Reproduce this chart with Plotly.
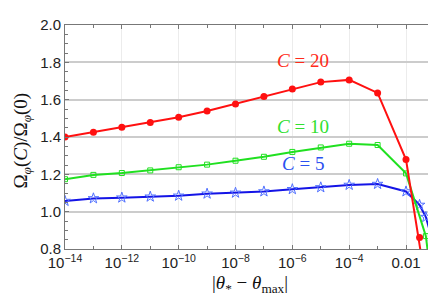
import plotly.graph_objects as go

decades = [10.0 ** e for e in range(-14, -1)]  # 1e-14 ... 1e-2

x_red = decades + [0.03, 0.05]
y_red = [1.400, 1.426, 1.452, 1.478, 1.506, 1.539, 1.577, 1.617, 1.657, 1.694,
         1.706, 1.636, 1.279, 0.861, 0.61]

x_green = decades + [0.05, 0.09]
y_green = [1.174, 1.197, 1.207, 1.221, 1.238, 1.252, 1.273, 1.294, 1.320, 1.344,
           1.364, 1.357, 1.205, 0.869, 0.55]

x_blue = decades + [0.03, 0.05, 0.09]
y_blue = [1.057, 1.071, 1.075, 1.080, 1.085, 1.096, 1.101, 1.108, 1.120, 1.130,
          1.143, 1.148, 1.108, 1.036, 0.971, 0.835]

x_tickvals = [1e-14, 1e-12, 1e-10, 1e-8, 1e-6, 1e-4, 1e-2]
x_ticktext = ["10<sup>−14</sup>", "10<sup>−12</sup>", "10<sup>−10</sup>",
              "10<sup>−8</sup>", "10<sup>−6</sup>", "10<sup>−4</sup>", "0.01"]
x_minor = [1e-13, 1e-11, 1e-9, 1e-7, 1e-5, 1e-3]

labels = ["<i>C</i> = 20", "<i>C</i> = 10", "<i>C</i> = 5"]
label_logx = [-5.62, -5.62, -5.62]   # log10 positions on the log axis
label_y = [1.81, 1.455, 1.257]

RED, GREEN, BLUE = "#ff1010", "#20e020", "#1414e6"
LRED, LGREEN, LBLUE = "#ff2a1a", "#30e030", "#2a50f0"

fig = go.Figure()
fig.add_trace(go.Scatter(x=x_blue, y=y_blue, mode="lines+markers",
                         line=dict(color=BLUE, width=2),
                         marker=dict(symbol="star-open", size=8, color="#5070ff",
                                     line=dict(width=1))))
fig.add_trace(go.Scatter(x=x_green, y=y_green, mode="lines+markers",
                         line=dict(color=GREEN, width=2),
                         marker=dict(symbol="square-open", size=5, color=GREEN,
                                     line=dict(width=1))))
fig.add_trace(go.Scatter(x=x_red, y=y_red, mode="lines+markers",
                         line=dict(color=RED, width=2),
                         marker=dict(symbol="circle", size=7, color=RED)))

for t, xx, yy, c in zip(labels, label_logx, label_y, [LRED, LGREEN, LBLUE]):
    fig.add_annotation(x=xx, y=yy, text=t, showarrow=False, xanchor="center",
                       yanchor="middle",
                       font=dict(family="Liberation Serif", size=19, color=c))

fig.add_annotation(xref="paper", yref="paper", x=-0.117, y=0.4826,
                   text="Ω<sub><i>φ</i></sub>(<i>C</i>)/Ω<sub><i>φ</i></sub>(0)",
                   textangle=-90, showarrow=False, xanchor="center", yanchor="middle",
                   font=dict(family="Liberation Serif", size=19, color="#111"))
fig.add_annotation(xref="paper", yref="paper", x=0.4987, y=-0.158,
                   text="|<i>θ</i><sub>*</sub> − <i>θ</i><sub>max</sub>|",
                   showarrow=False, xanchor="center", yanchor="middle",
                   font=dict(family="Liberation Serif", size=19, color="#111"))

fig.update_layout(
    width=436, height=296,
    margin=dict(l=57, r=8, t=11, b=55),
    paper_bgcolor="white", plot_bgcolor="white",
    showlegend=False,
    xaxis=dict(type="log", range=[-14, -0.98], tickmode="array",
               tickvals=x_tickvals, ticktext=x_ticktext,
               ticks="inside", ticklen=4, tickcolor="#777",
               showgrid=True, gridcolor="#ececec", gridwidth=1,
               showline=True, linecolor="#777", linewidth=1, mirror="allticks",
               zeroline=False,
               minor=dict(tickmode="array", tickvals=x_minor, ticks="inside",
                          ticklen=3, tickcolor="#777", showgrid=False),
               tickfont=dict(family="Liberation Sans", size=15, color="#222")),
    yaxis=dict(range=[0.8, 2.0], tickmode="linear", tick0=0.8, dtick=0.2,
               tickformat=".1f",
               ticks="inside", ticklen=4, tickcolor="#777",
               showgrid=True, gridcolor="#cccccc", gridwidth=1.5,
               showline=True, linecolor="#777", linewidth=1, mirror="allticks",
               zeroline=False,
               minor=dict(dtick=0.05, ticks="inside", ticklen=2.5,
                          tickcolor="#777", showgrid=False),
               tickfont=dict(family="Liberation Sans", size=15, color="#222")),
)

fig.write_html("out.html")
